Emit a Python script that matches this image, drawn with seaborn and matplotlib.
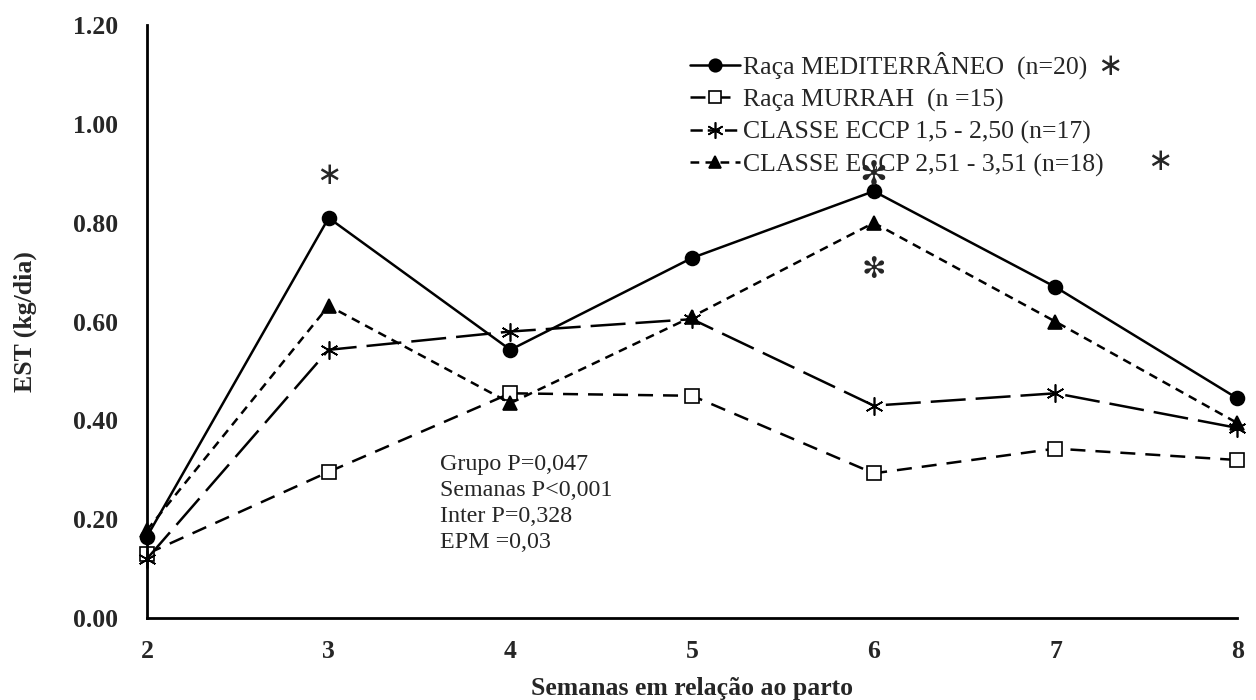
import numpy as np
import pandas as pd
import seaborn as sns
import matplotlib
matplotlib.use("Agg")
import matplotlib.pyplot as plt
from matplotlib.lines import Line2D

weeks = [2, 3, 4, 5, 6, 7, 8]
mediterraneo = [0.165, 0.81, 0.543, 0.729, 0.864, 0.67, 0.445]
murrah = [0.13, 0.296, 0.455, 0.45, 0.293, 0.343, 0.32]
classe1 = [0.12, 0.543, 0.58, 0.605, 0.43, 0.455, 0.385]
classe2 = [0.178, 0.632, 0.435, 0.61, 0.80, 0.60, 0.395]

labels = ["Raça MEDITERRÂNEO  (n=20)", "Raça MURRAH  (n =15)",
          "CLASSE ECCP 1,5 - 2,50 (n=17)", "CLASSE ECCP 2,51 - 3,51 (n=18)"]
stats_lines = ["Grupo P=0,047", "Semanas P<0,001", "Inter P=0,328", "EPM =0,03"]
yticks = [0.0, 0.2, 0.4, 0.6, 0.8, 1.0, 1.2]

sns.set_theme(style="white")
plt.rcParams['font.family'] = ['Liberation Serif', 'DejaVu Sans']

fig = plt.figure(figsize=(12.56, 7.0), dpi=100)
ax = fig.add_axes([0.117, 0.117, 0.868, 0.847])

series = [mediterraneo, murrah, classe1, classe2]
styles = [
    dict(marker='o', ms=10, mfc='black', dashes=None),
    dict(marker='s', ms=10, mfc='white', dashes=(6, 4)),
    dict(marker=(6, 2, 0), ms=13, mfc='black', dashes=(14, 4)),
    dict(marker='^', ms=10, mfc='black', dashes=(3.5, 2.5)),
]
handles = []
for vals, st, lab in zip(series, styles, labels):
    df = pd.DataFrame({"Semana": weeks, "EST": vals})
    n_before = len(ax.lines)
    sns.lineplot(data=df, x="Semana", y="EST", ax=ax, color='black', lw=1.8,
                 marker=st['marker'], markersize=st['ms'], markerfacecolor=st['mfc'],
                 markeredgecolor='black', markeredgewidth=1.2, clip_on=False)
    line = ax.lines[n_before]
    if st['dashes'] is not None:
        line.set_dashes(st['dashes'])
    h = Line2D([], [], color='black', lw=1.8, marker=st['marker'], markersize=st['ms'] * 0.9,
               markerfacecolor=st['mfc'], markeredgecolor='black', markeredgewidth=1.2)
    if st['dashes'] is not None:
        h.set_dashes((st['dashes'][0] * 0.35, st['dashes'][1] * 0.5) if st['dashes'][0] > 10 else st['dashes'])
    handles.append(h)

FS = 18.5
ax.set_xlim(2, 8)
ax.set_ylim(0, 1.2)
ax.set_xticks(weeks)
ax.set_xticklabels([str(w) for w in weeks], fontsize=FS, fontweight='bold')
ax.set_yticks(yticks)
ax.set_yticklabels([f"{v:.2f}" for v in yticks], fontsize=FS, fontweight='bold')
ax.set_xlabel("Semanas em relação ao parto", fontsize=FS, fontweight='bold')
ax.set_ylabel("EST (kg/dia)", fontsize=FS, fontweight='bold')
ax.xaxis.set_label_coords(0.5, -0.1)
ax.yaxis.set_label_coords(-0.101, 0.5)
for s in ['top', 'right']:
    ax.spines[s].set_visible(False)
for s in ['left', 'bottom']:
    ax.spines[s].set_color('black')
    ax.spines[s].set_linewidth(2)
ax.tick_params(axis='x', direction='inout', length=8, width=1.5, color='black', pad=12)
ax.tick_params(axis='y', length=0, pad=21)

leg = ax.legend(handles, labels, loc='upper left', bbox_to_anchor=(0.498, 0.955), frameon=False,
                fontsize=FS, handlelength=1.95, handletextpad=0.1, labelspacing=0.35,
                borderaxespad=0, borderpad=0)

# significance asterisks
ax.text(3, 0.895, "∗", ha='center', va='center', fontsize=22, family=['DejaVu Sans'])
ax.text(6, 0.895, "✻", ha='center', va='center', fontsize=24, family=['DejaVu Sans'])
ax.text(6, 0.704, "✻", ha='center', va='center', fontsize=21, family=['DejaVu Sans'])
ax.text(7.30, 1.117, "∗", ha='center', va='center', fontsize=22, family=['DejaVu Sans'])
ax.text(7.576, 0.925, "∗", ha='center', va='center', fontsize=22, family=['DejaVu Sans'])

ax.text(3.613, 0.232, "\n".join(stats_lines), ha='left', va='center', fontsize=17.3,
        linespacing=1.3)

fig.savefig("out.png", dpi=100)
